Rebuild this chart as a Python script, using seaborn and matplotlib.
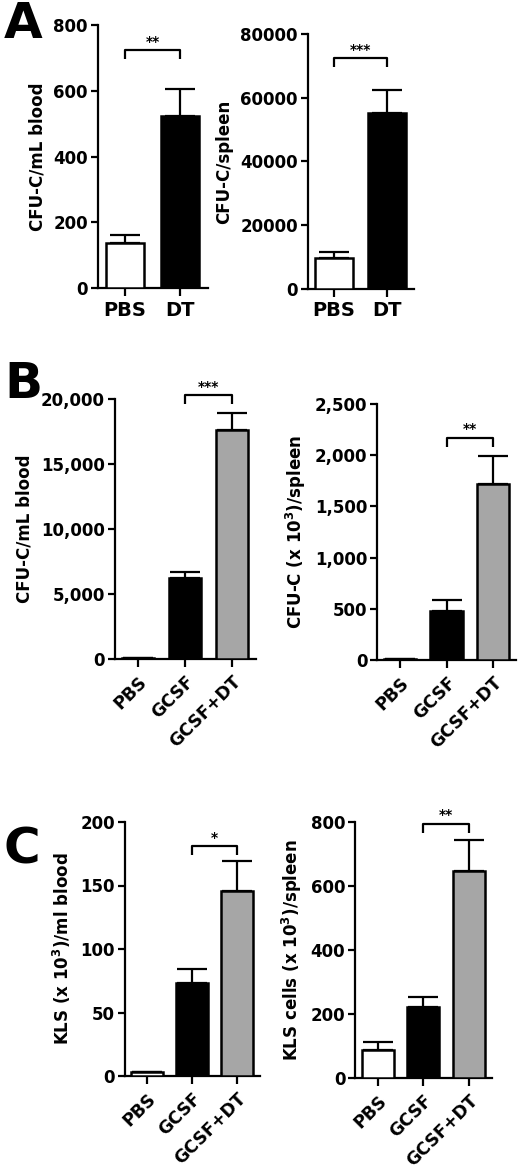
import matplotlib
matplotlib.use('Agg')
import matplotlib.pyplot as plt
import seaborn as sns
import numpy as np

sns.set_style('ticks')
plt.rcParams['font.family'] = ['DejaVu Sans']
plt.rcParams['font.weight'] = 'bold'
plt.rcParams['axes.labelweight'] = 'bold'
plt.rcParams['mathtext.default'] = 'bf'
for key in ['text.color', 'axes.labelcolor', 'xtick.color', 'ytick.color', 'axes.edgecolor']:
    plt.rcParams[key] = 'black'

W, H = 520, 1172

FILL = {'PBS': 'white', 'DT': 'black', 'GCSF': 'black', 'GCSF+DT': '#a6a6a6'}

# Panel A: CFU-C, DT vs PBS
A_GROUPS = ['PBS', 'DT']
A_BLOOD_MEAN = [136, 522]
A_BLOOD_SEM = [25, 83]
A_SPLEEN_MEAN = [9700, 55200]
A_SPLEEN_SEM = [1900, 7200]

# Panel B: CFU-C after GCSF
B_GROUPS = ['PBS', 'GCSF', 'GCSF+DT']
B_BLOOD_MEAN = [100, 6230, 17600]
B_BLOOD_SEM = [0, 470, 1300]
B_SPLEEN_MEAN = [10, 480, 1720]
B_SPLEEN_SEM = [0, 106, 270]

# Panel C: KLS cells after GCSF
C_GROUPS = ['PBS', 'GCSF', 'GCSF+DT']
C_BLOOD_MEAN = [3, 73, 146]
C_BLOOD_SEM = [0, 11, 23]
C_SPLEEN_MEAN = [88, 222, 647]
C_SPLEEN_SEM = [24, 31, 96]


def px_axes(left, right, top, bottom):
    return fig.add_axes([left / W, 1 - bottom / H, (right - left) / W, (bottom - top) / H])


def draw_panel(ax, groups, means, sems, ylim, yticks, ylabel, sig, sig_pair, sig_y,
               tick_fmt='{:d}', rotate=False):
    sns.barplot(x=groups, y=means, hue=groups, palette=[FILL[g] for g in groups],
                order=groups, width=0.7, edgecolor='black', linewidth=1.8,
                legend=False, ax=ax, zorder=3)
    x = np.arange(len(groups))
    lower = np.zeros(len(groups))
    ax.errorbar(x, means, yerr=[lower, sems], fmt='none', ecolor='black',
                elinewidth=1.6, capsize=11, capthick=1.6, zorder=2)
    ax.set_xlim(-0.5, len(groups) - 0.5)
    ax.set_ylim(*ylim)
    ax.set_yticks(yticks)
    ax.set_yticklabels([tick_fmt.format(t) for t in yticks])
    ax.set_ylabel(ylabel, fontsize=12, fontweight='bold', labelpad=5)
    ax.set_xlabel('')
    sns.despine(ax=ax)
    for s in ['left', 'bottom']:
        ax.spines[s].set_linewidth(1.6)
    ax.tick_params(axis='y', labelsize=12, width=1.6, length=5, pad=2)
    ax.tick_params(axis='x', width=1.6, length=6, pad=3)
    if rotate:
        ax.tick_params(axis='x', labelsize=12.5, pad=4)
        for lab in ax.get_xticklabels():
            lab.set_rotation(45)
            lab.set_ha('right')
            lab.set_rotation_mode('anchor')
    else:
        ax.tick_params(axis='x', labelsize=14)
    for lab in ax.get_xticklabels() + ax.get_yticklabels():
        lab.set_fontweight('bold')
    # significance bracket
    i, j = sig_pair
    leg = 0.035 * ylim[1]
    ax.plot([i, i, j, j], [sig_y - leg, sig_y, sig_y, sig_y - leg], color='black',
            lw=1.6, clip_on=False, solid_capstyle='butt')
    ax.annotate(sig, xy=((i + j) / 2, sig_y), xytext=(0, 1), textcoords='offset points',
                ha='center', va='bottom', fontsize=10, fontweight='bold',
                annotation_clip=False)


fig = plt.figure(figsize=(W / 100, H / 100), dpi=100)

ax = px_axes(97.5, 207.5, 25, 288)
draw_panel(ax, A_GROUPS, A_BLOOD_MEAN, A_BLOOD_SEM, (0, 800), [0, 200, 400, 600, 800],
           'CFU-C/mL blood', '**', (0, 1), 724)

ax = px_axes(307.5, 413.5, 34, 289)
draw_panel(ax, A_GROUPS, A_SPLEEN_MEAN, A_SPLEEN_SEM, (0, 80000),
           [0, 20000, 40000, 60000, 80000], 'CFU-C/spleen', '***', (0, 1), 72500)

ax = px_axes(114.5, 255.5, 399, 659)
draw_panel(ax, B_GROUPS, B_BLOOD_MEAN, B_BLOOD_SEM, (0, 20000),
           [0, 5000, 10000, 15000, 20000], 'CFU-C/mL blood', '***', (1, 2), 20300,
           tick_fmt='{:,}', rotate=True)

ax = px_axes(377, 516, 404, 660)
draw_panel(ax, B_GROUPS, B_SPLEEN_MEAN, B_SPLEEN_SEM, (0, 2500),
           [0, 500, 1000, 1500, 2000, 2500], r'CFU-C (x 10$^{3}$)/spleen', '**', (1, 2), 2170,
           tick_fmt='{:,}', rotate=True)

ax = px_axes(124.5, 259.5, 822, 1076)
draw_panel(ax, C_GROUPS, C_BLOOD_MEAN, C_BLOOD_SEM, (0, 200), [0, 50, 100, 150, 200],
           r'KLS (x 10$^{3}$)/ml blood', '*', (1, 2), 181, rotate=True)

ax = px_axes(355, 491.5, 822, 1078)
draw_panel(ax, C_GROUPS, C_SPLEEN_MEAN, C_SPLEEN_SEM, (0, 800), [0, 200, 400, 600, 800],
           r'KLS cells (x 10$^{3}$)/spleen', '**', (1, 2), 795, rotate=True)

for letter, ytop in [('A', 0), ('B', 360), ('C', 825)]:
    fig.text(4 / W, 1 - ytop / H, letter, fontsize=36, fontweight='bold', va='top', ha='left')

fig.savefig('out.png', dpi=100, facecolor='white')
